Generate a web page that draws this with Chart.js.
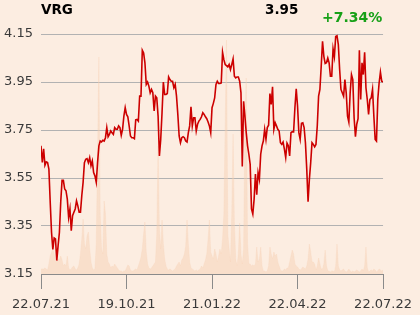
<!DOCTYPE html>
<html>
<head>
<meta charset="utf-8">
<script src="https://cdn.jsdelivr.net/npm/chart.js@4/dist/chart.umd.min.js"></script>
<style>
  html, body { margin: 0; padding: 0; background: #fcede1; }
  #wrap { width: 420px; height: 315px; }
</style>
</head>
<body>
<div id="wrap"><canvas id="c" width="420" height="315"></canvas></div>
<script>
const symbol = 'VRG';
const lastPrice = '3.95';
const changePct = '+7.34%';

const xTickLabels = ['22.07.21', '19.10.21', '21.01.22', '22.04.22', '22.07.22'];
const yTicks = [3.15, 3.35, 3.55, 3.75, 3.95, 4.15];

const price = [
  3.684, 3.615, 3.672, 3.603, 3.617, 3.614, 3.587, 3.45, 3.324, 3.252,
  3.30, 3.296, 3.206, 3.268, 3.324, 3.45, 3.54, 3.54, 3.504, 3.497,
  3.462, 3.386, 3.421, 3.33, 3.393, 3.407, 3.421, 3.455, 3.434, 3.407,
  3.407, 3.476, 3.532, 3.614, 3.628, 3.631, 3.614, 3.635, 3.601, 3.621,
  3.573, 3.559, 3.532, 3.614, 3.684, 3.704, 3.70, 3.707, 3.704, 3.718,
  3.76, 3.722, 3.732, 3.746, 3.739, 3.732, 3.76, 3.753, 3.753, 3.767,
  3.76, 3.728, 3.753, 3.808, 3.843,
  3.815, 3.805, 3.767, 3.725, 3.718, 3.718, 3.714, 3.792, 3.794, 3.787,
  3.891, 3.891, 4.082, 4.071, 4.03, 3.94, 3.95, 3.933, 3.905, 3.919,
  3.905, 3.829, 3.891, 3.884, 3.808, 3.642, 3.711, 3.822, 3.95, 3.898,
  3.898, 3.902, 3.971, 3.96, 3.953, 3.953, 3.926, 3.94, 3.891, 3.815,
  3.725, 3.697, 3.718, 3.722, 3.718, 3.704, 3.70, 3.739, 3.767, 3.847,
  3.767, 3.801, 3.801, 3.746, 3.774, 3.787, 3.794, 3.805, 3.822, 3.815,
  3.805, 3.797, 3.783, 3.767, 3.739,
  3.843, 3.861, 3.884, 3.94, 3.953, 3.944, 3.944, 3.946, 4.074, 4.043,
  4.023, 4.018, 4.013, 4.023, 4.002, 4.023, 4.046, 3.974, 3.967, 3.971,
  3.971, 3.953, 3.905, 3.598, 3.87, 3.808, 3.739, 3.684, 3.649, 3.607,
  3.421, 3.40, 3.462, 3.566, 3.48, 3.573, 3.545, 3.649, 3.684, 3.704,
  3.753, 3.711, 3.76, 3.77, 3.902, 3.857, 3.93, 3.753, 3.78, 3.767,
  3.753, 3.746, 3.697, 3.69, 3.70, 3.67, 3.635, 3.695, 3.684, 3.642,
  3.739, 3.743, 3.742, 3.843, 3.922, 3.85,
  3.739, 3.711, 3.778, 3.78, 3.76, 3.697, 3.587, 3.451, 3.545, 3.614,
  3.697, 3.69, 3.68, 3.69, 3.767, 3.891, 3.919, 4.016, 4.12, 4.057,
  4.027, 4.03, 4.05, 4.03, 3.974, 3.974, 4.088, 4.055, 4.14, 4.143,
  4.106, 4.002, 3.919, 3.905, 3.891, 3.96, 3.905, 3.808, 3.783, 3.905,
  3.981, 3.96, 3.801, 3.722, 3.774, 3.797, 4.082, 3.877, 4.03, 3.981,
  4.074, 3.926, 3.877, 3.815, 3.877, 3.884, 3.919, 3.808, 3.711, 3.704,
  3.877, 3.946, 3.991, 3.953, 3.95
];

const volume = [
  5, 5, 5, 6, 5, 4, 10, 18, 22, 25,
  20, 14, 12, 15, 14, 18, 14, 8, 10, 8,
  18, 6, 4, 5, 7, 8, 5, 4, 6, 10,
  20, 35, 55, 30, 25, 38, 42, 25, 12, 6,
  4, 5, 30, 120, 217, 60, 25, 20, 73, 60,
  20, 12, 10, 6, 8, 7, 10, 8, 6, 4,
  3, 3, 2, 3, 3, 6, 9, 8, 4, 3,
  3, 4, 5, 4, 8, 12, 17, 25, 40, 52,
  22, 10, 6, 5, 6, 8, 10, 12, 40, 128,
  45, 25, 54, 30, 15, 8, 5, 4, 5, 4,
  3, 4, 5, 8, 10, 12, 8, 14, 16, 20,
  28, 54, 30, 12, 6, 5, 4, 3, 4, 3,
  4, 5, 8, 6, 10, 14, 20, 35, 54, 22,
  18, 15, 25, 20, 12, 18, 25, 20, 35, 60,
  150, 234, 40, 25, 12, 60, 140, 50, 15, 8,
  20, 51, 20, 10, 25, 150, 196, 30, 10, 10,
  8, 9, 8, 10, 27, 12, 15, 27, 8, 3,
  3, 2, 3, 8, 27, 20, 15, 22, 18, 20,
  12, 8, 4, 3, 3, 5, 4, 6, 6, 12,
  18, 24, 20, 10, 8, 7, 5, 4, 5, 7,
  6, 5, 8, 15, 30, 22, 12, 12, 10, 4,
  8, 16, 10, 5, 5, 10, 24, 8, 3, 3,
  2, 3, 3, 2, 8, 30, 8, 4, 3, 4,
  5, 3, 2, 3, 5, 3, 2, 3, 2, 3,
  4, 3, 2, 3, 5, 3, 8, 27, 6, 2,
  3, 4, 3, 5, 4, 2, 3, 5, 4, 3,
  4
];

const lastIndex = price.length - 1;
const xTickIdx = xTickLabels.map((_, k) => Math.round(k * lastIndex / (xTickLabels.length - 1)));

const priceData = price.map((v, i) => ({ x: i, y: v }));
const volumeData = volume.map((v, i) => ({ x: i, y: v }));

const headerPlugin = {
  id: 'header',
  afterDraw(chart) {
    const ctx = chart.ctx;
    ctx.save();
    ctx.textBaseline = 'alphabetic';
    ctx.textAlign = 'left';
    ctx.fillStyle = '#000000';
    ctx.font = 'bold 13.5px "DejaVu Sans"';
    ctx.fillText(symbol, 41, 14);
    ctx.fillText(lastPrice, 265, 14);
    ctx.fillStyle = '#17a017';
    ctx.font = 'bold 14px "DejaVu Sans"';
    ctx.fillText(changePct, 322, 22);
    ctx.restore();
  }
};

new Chart(document.getElementById('c'), {
  type: 'line',
  data: {
    datasets: [
      {
        label: 'Price',
        data: priceData,
        yAxisID: 'y',
        borderColor: '#cc0000',
        borderWidth: 1.6,
        pointRadius: 0,
        tension: 0,
        fill: false,
        order: 1
      },
      {
        label: 'Volume',
        data: volumeData,
        yAxisID: 'y2',
        borderColor: 'rgba(246,208,180,0.5)',
        borderWidth: 0.5,
        backgroundColor: 'rgba(246,204,174,0.42)',
        pointRadius: 0,
        tension: 0,
        fill: 'start',
        order: 2
      }
    ]
  },
  options: {
    responsive: false,
    devicePixelRatio: 1,
    animation: false,
    layout: { padding: { top: 34, right: 34, bottom: 0, left: 0 } },
    plugins: { legend: { display: false }, tooltip: { enabled: false } },
    scales: {
      x: {
        type: 'linear',
        min: 0,
        max: lastIndex,
        afterBuildTicks(scale) { scale.ticks = xTickIdx.map(v => ({ value: v })); },
        afterFit(scale) { scale.height = 41; },
        border: { display: true, color: '#8a8a8a', width: 1 },
        grid: { drawOnChartArea: false, drawTicks: true, tickLength: 15, color: '#8a8a8a' },
        ticks: {
          autoSkip: false,
          maxRotation: 0,
          padding: 8,
          color: '#3a3a3a',
          font: { family: 'DejaVu Sans', size: 13 },
          callback(value) {
            const k = xTickIdx.indexOf(value);
            return k >= 0 ? xTickLabels[k] : null;
          }
        }
      },
      y: {
        position: 'left',
        min: yTicks[0],
        max: yTicks[yTicks.length - 1],
        afterBuildTicks(scale) { scale.ticks = yTicks.map(v => ({ value: v })); },
        afterFit(scale) { scale.width = 41; },
        border: { display: false },
        grid: { drawTicks: false, color: '#b2b2b2', lineWidth: 1 },
        ticks: {
          padding: 8,
          color: '#3a3a3a',
          font: { family: 'DejaVu Sans', size: 13 },
          callback(value) { return Number(value).toFixed(2); }
        }
      },
      y2: {
        display: false,
        min: 0,
        max: 240
      }
    }
  },
  plugins: [headerPlugin]
});
</script>
</body>
</html>
